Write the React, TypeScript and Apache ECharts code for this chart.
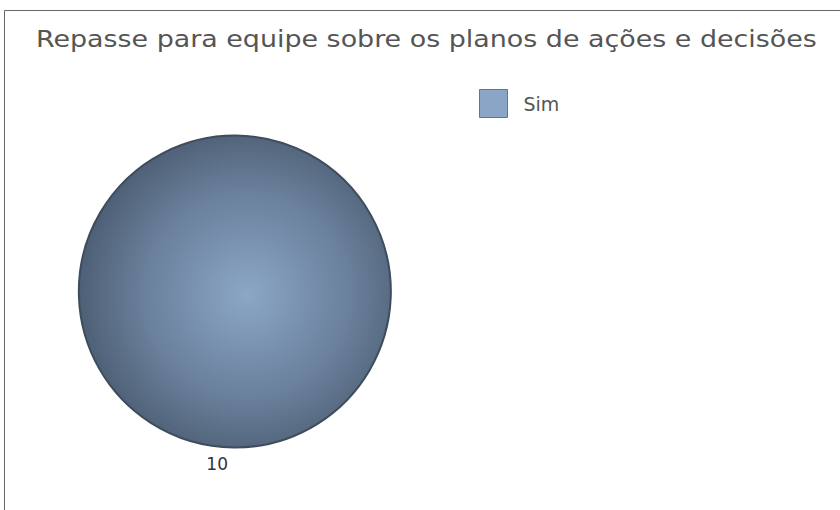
import React, { useEffect, useRef } from "react";
import * as echarts from "echarts";

const titleText = "Repasse para equipe sobre os planos de ações e decisões";
const categories = ["Sim"];
const values = [10];
const legendColor = "#8ba5c6";

export default function App() {
  const ref = useRef<HTMLDivElement>(null);
  useEffect(() => {
    document.body.style.margin = "0";
    const chart = echarts.init(ref.current!, null, { renderer: "svg" });
    chart.setOption({
      animation: false,
      backgroundColor: "#ffffff",
      legend: {
        data: categories.map((c) => ({
          name: c,
          itemStyle: { color: legendColor, borderColor: "#60758f", borderWidth: 1 },
        })),
        left: 479,
        top: 89,
        padding: 0,
        itemWidth: 28,
        itemHeight: 28,
        itemGap: 10,
        icon: "rect",
        textStyle: { fontFamily: "DejaVu Sans", fontSize: 19, color: "#555555", padding: [0, 0, 0, 11] },
      },
      graphic: [
        {
          type: "rect",
          shape: { x: 4.5, y: 10.5, width: 900, height: 600 },
          style: { fill: "none", stroke: "#666666", lineWidth: 1 },
          silent: true,
        },
        {
          type: "text",
          x: 36,
          y: 28,
          scaleX: 1.17,
          style: {
            text: titleText,
            fontFamily: "DejaVu Sans",
            fontSize: 23,
            fill: "#555555",
            verticalAlign: "top",
            align: "left",
          },
          silent: true,
        },
      ],
      series: [
        {
          type: "pie",
          center: [234.5, 291.5],
          radius: [0, 156],
          startAngle: 89.5,
          data: categories.map((c, i) => ({ name: c, value: values[i] })),
          label: {
            show: true,
            position: "outside",
            formatter: "{c}",
            fontFamily: "DejaVu Sans",
            fontSize: 17,
            color: "#333333",
          },
          labelLine: { show: false, length: 17, length2: 0 },
          itemStyle: {
            color: {
              type: "radial",
              x: 0.54,
              y: 0.51,
              r: 0.55,
              colorStops: [
                { offset: 0, color: "#8ba7c6" },
                { offset: 0.6, color: "#6a809b" },
                { offset: 1, color: "#4c5e74" },
              ],
            },
            borderColor: "#3e4c5d",
            borderWidth: 2,
          },
          emphasis: { disabled: true },
        },
      ],
      color: [legendColor],
    });
    return () => chart.dispose();
  }, []);
  return <div ref={ref} style={{ position: "absolute", left: 0, top: 0, width: 840, height: 510 }} />;
}
